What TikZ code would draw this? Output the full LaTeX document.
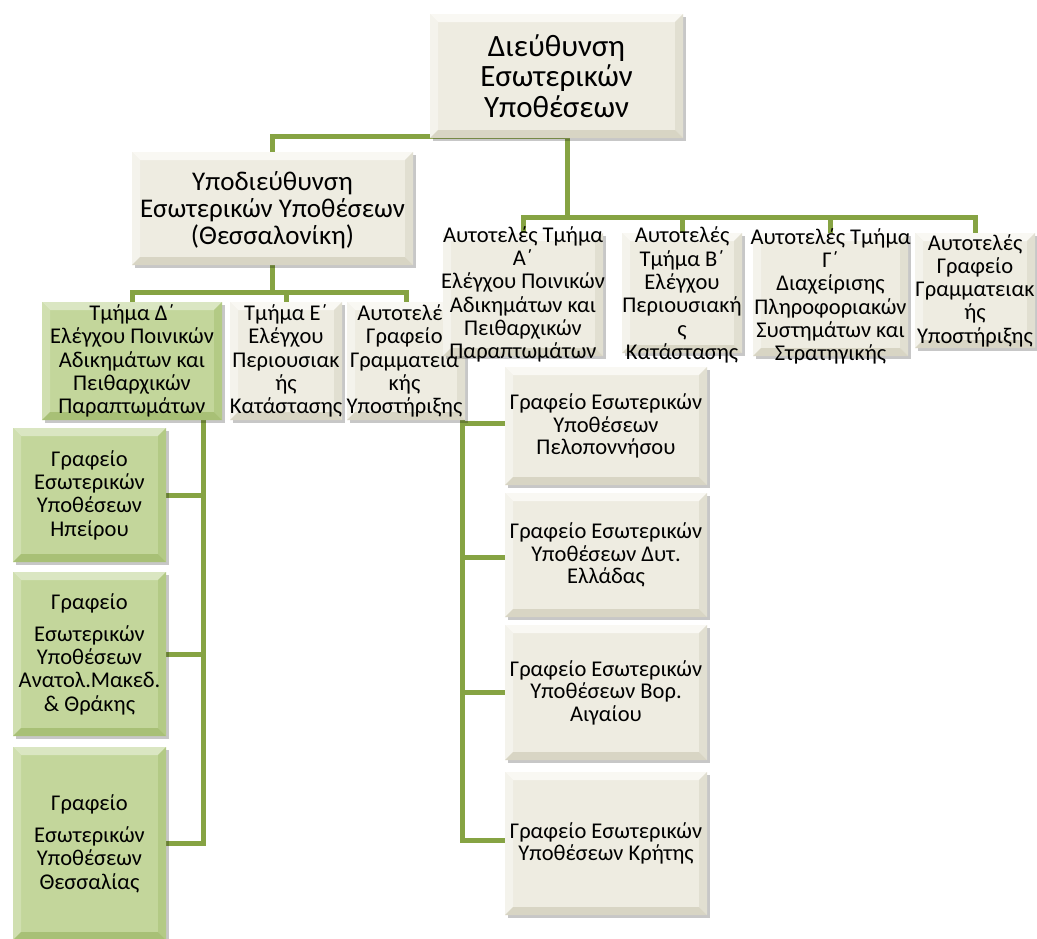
\documentclass[tikz,border=0pt]{standalone}
\usepackage{fontspec}
\setmainfont{Carlito}
\usetikzlibrary{shadows}

\definecolor{tanface}{HTML}{EEECE1}
\definecolor{tantop}{HTML}{F9F8F3}
\definecolor{tanleft}{HTML}{F4F3EC}
\definecolor{tanright}{HTML}{E1DFD1}
\definecolor{tanbot}{HTML}{D8D5C4}
\definecolor{grnface}{HTML}{C3D69B}
\definecolor{grntop}{HTML}{DAE6C2}
\definecolor{grnleft}{HTML}{D0DFB0}
\definecolor{grnright}{HTML}{B3CA85}
\definecolor{grnbot}{HTML}{A8C076}
\definecolor{lineg}{HTML}{86A343}

\newlength\bev
\setlength\bev{8pt}
% bevelled edges of a box, drawn inside its path picture
\newcommand\bevelfaces[4]{%
  \fill[#1] (path picture bounding box.north west) -- (path picture bounding box.north east)
    -- ([shift={(-\bev,-\bev)}]path picture bounding box.north east)
    -- ([shift={(\bev,-\bev)}]path picture bounding box.north west) -- cycle;
  \fill[#2] (path picture bounding box.north west) -- (path picture bounding box.south west)
    -- ([shift={(\bev,\bev)}]path picture bounding box.south west)
    -- ([shift={(\bev,-\bev)}]path picture bounding box.north west) -- cycle;
  \fill[#3] (path picture bounding box.north east) -- (path picture bounding box.south east)
    -- ([shift={(-\bev,\bev)}]path picture bounding box.south east)
    -- ([shift={(-\bev,-\bev)}]path picture bounding box.north east) -- cycle;
  \fill[#4] (path picture bounding box.south west) -- (path picture bounding box.south east)
    -- ([shift={(-\bev,\bev)}]path picture bounding box.south east)
    -- ([shift={(\bev,\bev)}]path picture bounding box.south west) -- cycle;
}
\newcommand\fsz[2]{\fontsize{#1pt}{#2pt}\selectfont}

\tikzset{
  conn/.style={draw=lineg, line width=5pt},
  orgbox/.style={rectangle, inner sep=0pt,
    drop shadow={shadow xshift=2.5pt, shadow yshift=-3pt, fill=black, opacity=0.22}},
  tanbox/.style={orgbox, fill=tanface,
    path picture={\bevelfaces{tantop}{tanleft}{tanright}{tanbot}}},
  grnbox/.style={orgbox, fill=grnface,
    path picture={\bevelfaces{grntop}{grnleft}{grnright}{grnbot}}},
  boxtxt/.style={align=center, inner sep=0pt, text=black, font=\fsz{22.5}{23.3}},
  rtxt/.style={boxtxt, font=\fsz{22.5}{22.5}},
  sz/.style n args={2}{minimum width=#1pt, minimum height=#2pt},
}

\begin{document}
\begin{tikzpicture}[x=1pt, y=-1pt]
\fill[white] (0,0) rectangle (1037,938);
\useasboundingbox (0,0) rectangle (1037,938);

% bus junctions and column rails
\coordinate (jA) at (567,136);
\coordinate (jB) at (567,217);
\coordinate (jC) at (272.5,292);
\coordinate (colL) at (203,0);
\coordinate (colR) at (462,0);

% ---------- box positions ----------
\path
  (556.5,76)  coordinate (p-top)
  (272.5,208.5) coordinate (p-sub)
  (523,294.5) coordinate (p-A)
  (682,293)   coordinate (p-B)
  (830.5,294.5) coordinate (p-G)
  (975,290.5) coordinate (p-Gr)
  (132,361)   coordinate (p-D)
  (286,361)   coordinate (p-E)
  (406,361)   coordinate (p-F)
  (89.5,495)  coordinate (p-H1)
  (89.5,654)  coordinate (p-H2)
  (89.5,843.5) coordinate (p-H3)
  (606,426)   coordinate (p-R1)
  (606,555)   coordinate (p-R2)
  (606,692.5) coordinate (p-R3)
  (606,843.5) coordinate (p-R4);

% invisible frames so that connectors can be laid first
\begin{scope}[every node/.style={rectangle, inner sep=0pt}]
  \node[sz={253}{124}] (top) at (p-top) {};
  \node[sz={281}{113}] (sub) at (p-sub) {};
  \node[sz={160}{123}] (A) at (p-A) {};
  \node[sz={120}{120}] (B) at (p-B) {};
  \node[sz={155}{123}] (G) at (p-G) {};
  \node[sz={120}{115}] (Gr) at (p-Gr) {};
  \node[sz={180}{118}] (D) at (p-D) {};
  \node[sz={112}{118}] (E) at (p-E) {};
  \node[sz={118}{118}] (F) at (p-F) {};
  \node[sz={153}{134}] (H1) at (p-H1) {};
  \node[sz={153}{164}] (H2) at (p-H2) {};
  \node[sz={153}{193}] (H3) at (p-H3) {};
  \node[sz={202}{118}] (R1) at (p-R1) {};
  \node[sz={202}{124}] (R2) at (p-R2) {};
  \node[sz={202}{135}] (R3) at (p-R3) {};
  \node[sz={202}{143}] (R4) at (p-R4) {};
\end{scope}

% ---------- connectors ----------
\draw[conn] (sub.north) |- (jA) -- (jB);
\draw[conn] (A.north) |- (jB) -| (Gr.north);
\draw[conn] (B.north) -- (B.north |- jB);
\draw[conn] (G.north) -- (G.north |- jB);
\draw[conn] (sub.south) -- (jC);
\draw[conn] (D.north) |- (jC) -| (F.north);
\draw[conn] (E.north) -- (E.north |- jC);
\draw[conn] (D.south -| colL) |- (H3.east);
\draw[conn] (H1.east) -- (H1.east -| colL);
\draw[conn] (H2.east) -- (H2.east -| colL);
\draw[conn] (A.south -| colR) |- ([yshift=3pt]R4.west);
\draw[conn] ([yshift=3pt]R1.west -| colR) -- ([yshift=3pt]R1.west);
\draw[conn] ([yshift=-2pt]R2.west -| colR) -- ([yshift=-2pt]R2.west);
\draw[conn] (R3.west -| colR) -- (R3.west);

% ---------- boxes and their texts ----------
\node[tanbox, sz={253}{124}] (topb) at (p-top) {};
\node[boxtxt, font=\fsz{31}{30.5}] (topt) at (p-top) {Διεύθυνση\\Εσωτερικών\\Υποθέσεων};

\node[tanbox, sz={281}{113}] (subb) at (p-sub) {};
\node[boxtxt, font=\fsz{27}{27}] (subt) at ([yshift=-2pt]p-sub) {Υποδιεύθυνση\\Εσωτερικών Υποθέσεων\\(Θεσσαλονίκη)};

\node[grnbox, sz={180}{118}] (Db) at (p-D) {};
\node[boxtxt] (Dt) at (p-D) {Τμήμα Δ΄\\Ελέγχου Ποινικών\\Αδικημάτων και\\Πειθαρχικών\\Παραπτωμάτων};

\node[tanbox, sz={112}{118}] (Eb) at (p-E) {};
\node[boxtxt] (Et) at (p-E) {Τμήμα Ε΄\\Ελέγχου\\Περιουσιακ\\ής\\Κατάστασης};

\node[tanbox, sz={118}{118}] (Fb) at (p-F) {};
\node[boxtxt] (Ft) at ([xshift=-1.5pt]p-F) {Αυτοτελές\\Γραφείο\\Γραμματεια\\κής\\Υποστήριξης};

\node[tanbox, sz={160}{123}] (Ab) at (p-A) {};
\node[boxtxt] (At) at (p-A) {Αυτοτελές Τμήμα\\Α΄\\Ελέγχου Ποινικών\\Αδικημάτων και\\Πειθαρχικών\\Παραπτωμάτων};

\node[tanbox, sz={120}{120}] (Bb) at (p-B) {};
\node[boxtxt] (Bt) at ([yshift=-2pt]p-B) {Αυτοτελές\\Τμήμα Β΄\\Ελέγχου\\Περιουσιακή\\ς\\Κατάστασης};

\node[tanbox, sz={155}{123}] (Gb) at (p-G) {};
\node[boxtxt] (Gt) at ([yshift=-2pt]p-G) {Αυτοτελές Τμήμα\\Γ΄\\Διαχείρισης\\Πληροφοριακών\\Συστημάτων και\\Στρατηγικής};

\node[tanbox, sz={120}{115}] (Grb) at (p-Gr) {};
\node[boxtxt] (Grt) at (p-Gr) {Αυτοτελές\\Γραφείο\\Γραμματειακ\\ής\\Υποστήριξης};

\node[grnbox, sz={153}{134}] (H1b) at (p-H1) {};
\node[boxtxt] (H1t) at (p-H1) {Γραφείο\\Εσωτερικών\\Υποθέσεων\\Ηπείρου};

\node[grnbox, sz={153}{164}] (H2b) at (p-H2) {};
\node[boxtxt] (H2t) at (p-H2) {Γραφείο\\[9pt]Εσωτερικών\\Υποθέσεων\\Ανατολ.Μακεδ.\\\& Θράκης};

\node[grnbox, sz={153}{193}] (H3b) at (p-H3) {};
\node[boxtxt] (H3t) at (p-H3) {Γραφείο\\[9pt]Εσωτερικών\\Υποθέσεων\\Θεσσαλίας};

\node[tanbox, sz={202}{118}] (R1b) at (p-R1) {};
\node[rtxt] (R1t) at (p-R1) {Γραφείο Εσωτερικών\\Υποθέσεων\\Πελοποννήσου};

\node[tanbox, sz={202}{124}] (R2b) at (p-R2) {};
\node[rtxt] (R2t) at (p-R2) {Γραφείο Εσωτερικών\\Υποθέσεων Δυτ.\\Ελλάδας};

\node[tanbox, sz={202}{135}] (R3b) at (p-R3) {};
\node[rtxt] (R3t) at (p-R3) {Γραφείο Εσωτερικών\\Υποθέσεων Βορ.\\Αιγαίου};

\node[tanbox, sz={202}{143}] (R4b) at (p-R4) {};
\node[rtxt] (R4t) at (p-R4) {Γραφείο Εσωτερικών\\Υποθέσεων Κρήτης};
\end{tikzpicture}
\end{document}
